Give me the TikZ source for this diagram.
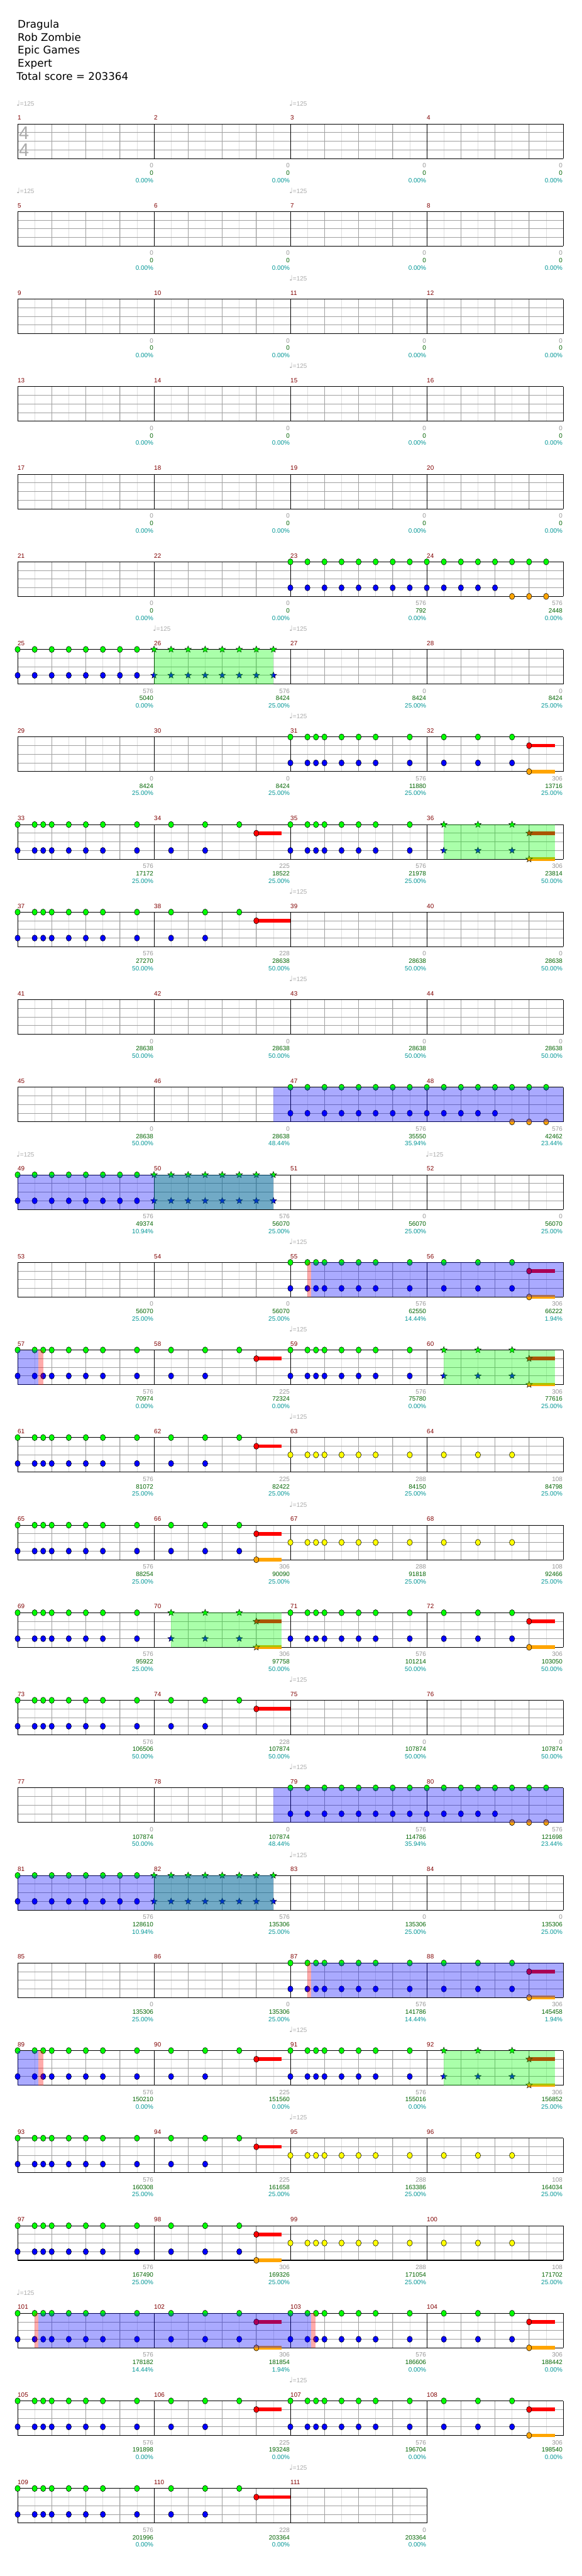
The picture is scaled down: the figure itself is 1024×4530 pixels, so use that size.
\documentclass[tikz,border=0pt]{standalone}
\usepackage{fontspec}
\setmainfont{Liberation Sans}
\newfontfamily\titlefont{DejaVu Sans}
\usetikzlibrary{positioning}

\definecolor{barred}{RGB}{128,0,0}
\definecolor{scoregreen}{RGB}{0,100,0}
\definecolor{pctteal}{RGB}{0,150,150}
\definecolor{numgray}{RGB}{150,150,150}
\definecolor{tempogray}{RGB}{170,170,170}
\definecolor{beatgray}{RGB}{160,160,160}
\definecolor{halfgray}{RGB}{222,222,222}
\definecolor{fretgreen}{RGB}{0,255,0}
\definecolor{fretred}{RGB}{255,0,0}
\definecolor{fretyellow}{RGB}{255,255,0}
\definecolor{fretblue}{RGB}{0,0,255}
\definecolor{fretorange}{RGB}{255,165,0}

\tikzset{
  row/.style={shift={(31,{218+154*(#1-1)})},x=30pt,y=-15.2pt},
  tiny/.style={font=\fontsize{11}{13}\selectfont,inner sep=0pt},
  barnum/.style={tiny,text=barred,anchor=base west,yshift=7pt},
  sustnum/.style={tiny,text=numgray,anchor=base east,xshift=-1pt,yshift=-16pt},
  scorenum/.style={tiny,text=scoregreen,anchor=base east,xshift=-1pt,yshift=-29pt},
  pctnum/.style={tiny,text=pctteal,anchor=base east,xshift=-1pt,yshift=-42pt},
  tempomark/.style={tiny,text=tempogray,anchor=base west,xshift=-2pt,yshift=32pt},
  titleline/.style={font=\titlefont\fontsize{18.5}{22}\selectfont,anchor=base west,inner sep=0pt},
  timesig/.style={font=\fontsize{32}{32}\selectfont,text=tempogray,anchor=base west,inner sep=0pt}
}

% riff positions, in eighths from the start of the row
\def\riffA{0,1,1.5,2,3,4,5,7,9,11,13}
\def\riffAb{0,1,1.5,2,3,4,5,7,9,11}
\def\riffB{16,17,17.5,18,19,20,21,23,25,27,29}
\def\riffBa{16,17,17.5,18,19,20,21,23}

\newcommand\staff[2]{% first bar, number of bars
  \def\firstbar{#1}
  \pgfmathtruncatemacro\lastx{8*#2}
  \pgfmathtruncatemacro\lastbar{#2-1}
  \foreach \e in {1,...,\lastx} \draw[halfgray,line width=.6pt] (\e,0) -- (\e,4);
  \foreach \e in {2,4,...,\lastx} \draw[beatgray,line width=.8pt] (\e,0) -- (\e,4);
  \foreach \l in {1,2,3} \draw[beatgray,line width=.9pt] (0,\l) -- (\lastx,\l);
  \foreach \m in {0,...,#2} \draw[line width=.8pt] (8*\m,0) -- (8*\m,4);
  \draw[line width=1.2pt] (0,0) -- (\lastx,0) (0,4) -- (\lastx,4);
  \foreach \m [evaluate=\m as \mn using int(#1+\m)] in {0,...,\lastbar}
    \node[barnum] (b\mn) at (8*\m,0) {\mn};
}
\newcommand\scores[1]{%
  \edef\scorelist{#1}%
  \foreach \m/\su/\sc/\pc [evaluate=\m as \mn using int(\firstbar+\m-1)] in \scorelist {
    \node[sustnum] (s\mn) at (8*\m,4) {\su};
    \node[scorenum] (c\mn) at (8*\m,4) {\sc};
    \node[pctnum] (p\mn) at (8*\m,4) {\pc\%};
  }
}
\newcommand\tempo[1]{\node[tempomark] (q#1) at ({8*(#1-\firstbar)},0) {{\titlefont\fontsize{13}{13}\selectfont ♩}=125};}
\def\noscores{1/0/0/0.00,2/0/0/0.00,3/0/0/0.00,4/0/0/0.00}

\newcommand\gem[3]{\filldraw[fill=#3,line width=.6pt] (#1,#2) ellipse [x radius=4.6pt,y radius=5.4pt];}
\newcommand\gems[3]{\edef\gemlist{#3}\foreach \e in \gemlist {\gem{\e}{#1}{#2}}}
\newcommand\stargem[3]{\filldraw[fill=#3,line width=.5pt,shift={(#1,#2)}]
  (90:6pt) -- (126:2.6pt) -- (162:6pt) -- (198:2.6pt) -- (234:6pt) -- (270:2.6pt)
  -- (306:6pt) -- (342:2.6pt) -- (18:6pt) -- (54:2.6pt) -- cycle;}
\newcommand\stargems[3]{\edef\gemlist{#3}\foreach \e in \gemlist {\stargem{\e}{#1}{#2}}}
\newcommand\hold[4]{\fill[#4] (#1,{#3-.21}) rectangle (#2,{#3+.21}); \gem{#1}{#3}{#4}}
\newcommand\starhold[4]{\fill[#4] (#1,{#3-.21}) rectangle (#2,{#3+.21}); \stargem{#1}{#3}{#4}}
\newcommand\spzone[3]{\fill[#3,opacity=.333] (#1,0) rectangle (#2,4);}

\begin{document}
\begin{tikzpicture}[x=1pt,y=-1pt]
\fill[white] (0,0) rectangle (1024,4530);
\useasboundingbox (0,0) rectangle (1024,4530);

\node[titleline] (song) at (31,49) {Dragula};
\node[titleline] (artist) at (31,72) {Rob Zombie};
\node[titleline] (charter) at (31,95) {Epic Games};
\node[titleline] (level) at (31,118) {Expert};
\node[titleline] (total) at (29,141) {Total score = 203364};

% bars 1-20, empty
\begin{scope}[row=1]
  \staff{1}{4}
  \tempo{1}\tempo{3}
  \scores{\noscores}
\end{scope}
\node[timesig] (sigtop) at (33,245) {4};
\node[timesig] (sigbot) at (33,275) {4};
\begin{scope}[row=2]
  \staff{5}{4}
  \tempo{5}\tempo{7}
  \scores{\noscores}
\end{scope}
\begin{scope}[row=3]
  \staff{9}{4}
  \tempo{11}
  \scores{\noscores}
\end{scope}
\begin{scope}[row=4]
  \staff{13}{4}
  \tempo{15}
  \scores{\noscores}
\end{scope}
\begin{scope}[row=5]
  \staff{17}{4}
  \scores{\noscores}
\end{scope}

% bars 21-24
\begin{scope}[row=6]
  \staff{21}{4}
  \gems{0}{fretgreen}{16,...,31}
  \gems{3}{fretblue}{16,...,28}
  \gems{4}{fretorange}{29,30,31}
  \scores{1/0/0/0.00,2/0/0/0.00,3/576/792/0.00,4/576/2448/0.00}
\end{scope}

% bars 25-28
\begin{scope}[row=7]
  \staff{25}{4}
  \tempo{26}\tempo{27}
  \gems{0}{fretgreen}{0,...,7}
  \stargems{0}{fretgreen}{8,...,15}
  \gems{3}{fretblue}{0,...,7}
  \stargems{3}{fretblue}{8,...,15}
  \spzone{8}{15}{green}
  \scores{1/576/5040/0.00,2/576/8424/25.00,3/0/8424/25.00,4/0/8424/25.00}
\end{scope}

% bars 29-32
\begin{scope}[row=8]
  \staff{29}{4}
  \tempo{31}
  \gems{0}{fretgreen}{\riffB}
  \gems{3}{fretblue}{\riffB}
  \hold{30}{31.5}{1}{fretred}
  \hold{30}{31.5}{4}{fretorange}
  \scores{1/0/8424/25.00,2/0/8424/25.00,3/576/11880/25.00,4/306/13716/25.00}
\end{scope}

% bars 33-36
\begin{scope}[row=9]
  \staff{33}{4}
  \gems{0}{fretgreen}{\riffA}
  \gems{3}{fretblue}{\riffAb}
  \hold{14}{15.5}{1}{fretred}
  \gems{0}{fretgreen}{\riffBa}
  \stargems{0}{fretgreen}{25,27,29}
  \gems{3}{fretblue}{\riffBa}
  \stargems{3}{fretblue}{25,27,29}
  \starhold{30}{31.5}{1}{fretred}
  \starhold{30}{31.5}{4}{fretorange}
  \spzone{25}{31.5}{green}
  \scores{1/576/17172/25.00,2/225/18522/25.00,3/576/21978/25.00,4/306/23814/50.00}
\end{scope}

% bars 37-40
\begin{scope}[row=10]
  \staff{37}{4}
  \tempo{39}
  \gems{0}{fretgreen}{\riffA}
  \gems{3}{fretblue}{\riffAb}
  \hold{14}{16}{1}{fretred}
  \scores{1/576/27270/50.00,2/228/28638/50.00,3/0/28638/50.00,4/0/28638/50.00}
\end{scope}

% bars 41-44
\begin{scope}[row=11]
  \staff{41}{4}
  \tempo{43}
  \scores{1/0/28638/50.00,2/0/28638/50.00,3/0/28638/50.00,4/0/28638/50.00}
\end{scope}

% bars 45-48
\begin{scope}[row=12]
  \staff{45}{4}
  \gems{0}{fretgreen}{16,...,31}
  \gems{3}{fretblue}{16,...,28}
  \gems{4}{fretorange}{29,30,31}
  \spzone{15}{32}{blue}
  \scores{1/0/28638/50.00,2/0/28638/48.44,3/576/35550/35.94,4/576/42462/23.44}
\end{scope}

% bars 49-52
\begin{scope}[row=13]
  \staff{49}{4}
  \tempo{49}\tempo{52}
  \gems{0}{fretgreen}{0,...,7}
  \stargems{0}{fretgreen}{8,...,15}
  \gems{3}{fretblue}{0,...,7}
  \stargems{3}{fretblue}{8,...,15}
  \spzone{8}{15}{green}
  \spzone{0}{15}{blue}
  \scores{1/576/49374/10.94,2/576/56070/25.00,3/0/56070/25.00,4/0/56070/25.00}
\end{scope}

% bars 53-56
\begin{scope}[row=14]
  \staff{53}{4}
  \tempo{55}
  \gems{0}{fretgreen}{\riffB}
  \gems{3}{fretblue}{\riffB}
  \hold{30}{31.5}{1}{fretred}
  \hold{30}{31.5}{4}{fretorange}
  \spzone{17}{17.22}{red}
  \spzone{17.22}{32}{blue}
  \scores{1/0/56070/25.00,2/0/56070/25.00,3/576/62550/14.44,4/306/66222/1.94}
\end{scope}

% bars 57-60
\begin{scope}[row=15]
  \staff{57}{4}
  \tempo{59}
  \gems{0}{fretgreen}{\riffA}
  \gems{3}{fretblue}{\riffAb}
  \hold{14}{15.5}{1}{fretred}
  \gems{0}{fretgreen}{\riffBa}
  \stargems{0}{fretgreen}{25,27,29}
  \gems{3}{fretblue}{\riffBa}
  \stargems{3}{fretblue}{25,27,29}
  \starhold{30}{31.5}{1}{fretred}
  \starhold{30}{31.5}{4}{fretorange}
  \spzone{25}{31.5}{green}
  \spzone{0}{1.22}{blue}
  \spzone{1.22}{1.5}{red}
  \scores{1/576/70974/0.00,2/225/72324/0.00,3/576/75780/0.00,4/306/77616/25.00}
\end{scope}

% bars 61-64
\begin{scope}[row=16]
  \staff{61}{4}
  \tempo{63}
  \gems{0}{fretgreen}{\riffA}
  \gems{3}{fretblue}{\riffAb}
  \hold{14}{15.5}{1}{fretred}
  \gems{2}{fretyellow}{\riffB}
  \scores{1/576/81072/25.00,2/225/82422/25.00,3/288/84150/25.00,4/108/84798/25.00}
\end{scope}

% bars 65-68
\begin{scope}[row=17]
  \staff{65}{4}
  \tempo{67}
  \gems{0}{fretgreen}{\riffA}
  \gems{3}{fretblue}{\riffA}
  \hold{14}{15.5}{1}{fretred}
  \hold{14}{15.5}{4}{fretorange}
  \gems{2}{fretyellow}{\riffB}
  \scores{1/576/88254/25.00,2/306/90090/25.00,3/288/91818/25.00,4/108/92466/25.00}
\end{scope}

% bars 69-72
\begin{scope}[row=18]
  \staff{69}{4}
  \gems{0}{fretgreen}{0,1,1.5,2,3,4,5,7}
  \stargems{0}{fretgreen}{9,11,13}
  \gems{3}{fretblue}{0,1,1.5,2,3,4,5,7}
  \stargems{3}{fretblue}{9,11,13}
  \starhold{14}{15.5}{1}{fretred}
  \starhold{14}{15.5}{4}{fretorange}
  \spzone{9}{15.5}{green}
  \gems{0}{fretgreen}{\riffB}
  \gems{3}{fretblue}{\riffB}
  \hold{30}{31.5}{1}{fretred}
  \hold{30}{31.5}{4}{fretorange}
  \scores{1/576/95922/25.00,2/306/97758/50.00,3/576/101214/50.00,4/306/103050/50.00}
\end{scope}

% bars 73-76
\begin{scope}[row=19]
  \staff{73}{4}
  \tempo{75}
  \gems{0}{fretgreen}{\riffA}
  \gems{3}{fretblue}{\riffAb}
  \hold{14}{16}{1}{fretred}
  \scores{1/576/106506/50.00,2/228/107874/50.00,3/0/107874/50.00,4/0/107874/50.00}
\end{scope}

% bars 77-80
\begin{scope}[row=20]
  \staff{77}{4}
  \tempo{79}
  \gems{0}{fretgreen}{16,...,31}
  \gems{3}{fretblue}{16,...,28}
  \gems{4}{fretorange}{29,30,31}
  \spzone{15}{32}{blue}
  \scores{1/0/107874/50.00,2/0/107874/48.44,3/576/114786/35.94,4/576/121698/23.44}
\end{scope}

% bars 81-84
\begin{scope}[row=21]
  \staff{81}{4}
  \tempo{83}
  \gems{0}{fretgreen}{0,...,7}
  \stargems{0}{fretgreen}{8,...,15}
  \gems{3}{fretblue}{0,...,7}
  \stargems{3}{fretblue}{8,...,15}
  \spzone{8}{15}{green}
  \spzone{0}{15}{blue}
  \scores{1/576/128610/10.94,2/576/135306/25.00,3/0/135306/25.00,4/0/135306/25.00}
\end{scope}

% bars 85-88
\begin{scope}[row=22]
  \staff{85}{4}
  \gems{0}{fretgreen}{\riffB}
  \gems{3}{fretblue}{\riffB}
  \hold{30}{31.5}{1}{fretred}
  \hold{30}{31.5}{4}{fretorange}
  \spzone{17}{17.22}{red}
  \spzone{17.22}{32}{blue}
  \scores{1/0/135306/25.00,2/0/135306/25.00,3/576/141786/14.44,4/306/145458/1.94}
\end{scope}

% bars 89-92
\begin{scope}[row=23]
  \staff{89}{4}
  \tempo{91}
  \gems{0}{fretgreen}{\riffA}
  \gems{3}{fretblue}{\riffAb}
  \hold{14}{15.5}{1}{fretred}
  \gems{0}{fretgreen}{\riffBa}
  \stargems{0}{fretgreen}{25,27,29}
  \gems{3}{fretblue}{\riffBa}
  \stargems{3}{fretblue}{25,27,29}
  \starhold{30}{31.5}{1}{fretred}
  \starhold{30}{31.5}{4}{fretorange}
  \spzone{25}{31.5}{green}
  \spzone{0}{1.22}{blue}
  \spzone{1.22}{1.5}{red}
  \scores{1/576/150210/0.00,2/225/151560/0.00,3/576/155016/0.00,4/306/156852/25.00}
\end{scope}

% bars 93-96
\begin{scope}[row=24]
  \staff{93}{4}
  \tempo{95}
  \gems{0}{fretgreen}{\riffA}
  \gems{3}{fretblue}{\riffAb}
  \hold{14}{15.5}{1}{fretred}
  \gems{2}{fretyellow}{\riffB}
  \scores{1/576/160308/25.00,2/225/161658/25.00,3/288/163386/25.00,4/108/164034/25.00}
\end{scope}

% bars 97-100
\begin{scope}[row=25]
  \staff{97}{4}
  \gems{0}{fretgreen}{\riffA}
  \gems{3}{fretblue}{\riffA}
  \hold{14}{15.5}{1}{fretred}
  \hold{14}{15.5}{4}{fretorange}
  \gems{2}{fretyellow}{\riffB}
  \scores{1/576/167490/25.00,2/306/169326/25.00,3/288/171054/25.00,4/108/171702/25.00}
\end{scope}

% bars 101-104
\begin{scope}[row=26]
  \staff{101}{4}
  \tempo{101}
  \gems{0}{fretgreen}{\riffA}
  \gems{3}{fretblue}{\riffA}
  \hold{14}{15.5}{1}{fretred}
  \hold{14}{15.5}{4}{fretorange}
  \gems{0}{fretgreen}{\riffB}
  \gems{3}{fretblue}{\riffB}
  \hold{30}{31.5}{1}{fretred}
  \hold{30}{31.5}{4}{fretorange}
  \spzone{1}{1.22}{red}
  \spzone{1.22}{17.22}{blue}
  \spzone{17.22}{17.48}{red}
  \scores{1/576/178182/14.44,2/306/181854/1.94,3/576/186606/0.00,4/306/188442/0.00}
\end{scope}

% bars 105-108
\begin{scope}[row=27]
  \staff{105}{4}
  \tempo{107}
  \gems{0}{fretgreen}{\riffA}
  \gems{3}{fretblue}{\riffAb}
  \hold{14}{15.5}{1}{fretred}
  \gems{0}{fretgreen}{\riffB}
  \gems{3}{fretblue}{\riffB}
  \hold{30}{31.5}{1}{fretred}
  \hold{30}{31.5}{4}{fretorange}
  \scores{1/576/191898/0.00,2/225/193248/0.00,3/576/196704/0.00,4/306/198540/0.00}
\end{scope}

% bars 109-111
\begin{scope}[row=28]
  \staff{109}{3}
  \tempo{111}
  \gems{0}{fretgreen}{\riffA}
  \gems{3}{fretblue}{\riffAb}
  \hold{14}{16}{1}{fretred}
  \scores{1/576/201996/0.00,2/228/203364/0.00,3/0/203364/0.00}
\end{scope}
\end{tikzpicture}
\end{document}
